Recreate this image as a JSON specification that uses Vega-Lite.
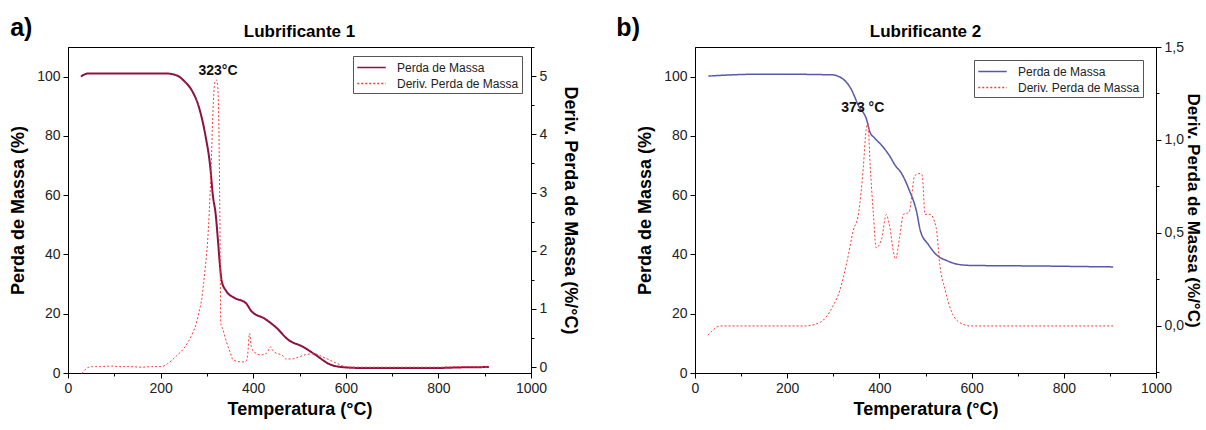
{
  "$schema": "https://vega.github.io/schema/vega-lite/v6.json",
  "background": "white",
  "padding": {"left": 9, "top": 15, "right": 3, "bottom": 2},
  "spacing": 35,
  "config": {
    "font": "Liberation Sans",
    "view": {"stroke": "#000", "strokeWidth": 1},
    "axis": {
      "grid": false, "domainColor": "#000", "tickColor": "#000", "labelColor": "#222", "labelFlush": false,
      "labelFont": "Liberation Sans", "labelFontSize": 14, "titleFont": "Liberation Sans",
      "titleFontSize": 18, "titleFontWeight": "bold", "titleColor": "#000", "labelPadding": 3
    },
    "title": {"font": "Liberation Sans", "fontSize": 17, "fontWeight": "bold", "color": "#000", "offset": -25},
    "legend": {
      "orient": "top-right", "strokeColor": "#555", "padding": 3, "fillColor": "white",
      "labelFont": "Liberation Sans", "labelFontSize": 12, "labelColor": "#222",
      "symbolType": "M-1.9,0H1.9", "symbolSize": 225, "symbolOffset": 7, "labelOffset": 17,
      "symbolStrokeWidth": 1.5, "rowPadding": 1, "title": null
    }
  },
  "datasets": {
    "tga1": [
      {"T": 28, "m": 100.0}, {"T": 35, "m": 100.7}, {"T": 45, "m": 101.1}, {"T": 100, "m": 101.1}, {"T": 150, "m": 101.1},
      {"T": 210, "m": 101.1}, {"T": 235, "m": 100.4}, {"T": 251, "m": 98.5}, {"T": 268, "m": 95.2}, {"T": 282, "m": 90.1},
      {"T": 297, "m": 80.0}, {"T": 307, "m": 69.9}, {"T": 313, "m": 59.8}, {"T": 319, "m": 53.5}, {"T": 324, "m": 44.5},
      {"T": 328, "m": 36.6}, {"T": 332, "m": 31.0}, {"T": 342, "m": 27.6}, {"T": 359, "m": 25.4}, {"T": 384, "m": 23.6},
      {"T": 396, "m": 20.9}, {"T": 425, "m": 18.3}, {"T": 450, "m": 15.3}, {"T": 475, "m": 11.3}, {"T": 508, "m": 8.8},
      {"T": 533, "m": 6.3}, {"T": 566, "m": 2.9}, {"T": 591, "m": 2.0}, {"T": 632, "m": 1.7}, {"T": 700, "m": 1.7},
      {"T": 797, "m": 1.7}, {"T": 850, "m": 1.9}, {"T": 909, "m": 2.0}
    ],
    "dtg1": [
      {"T": 30, "d": -0.11}, {"T": 35, "d": -0.06}, {"T": 40, "d": -0.02}, {"T": 45, "d": 0.0}, {"T": 53, "d": 0.01},
      {"T": 70, "d": 0.01}, {"T": 94, "d": 0.02}, {"T": 110, "d": 0.01}, {"T": 130, "d": 0.01}, {"T": 160, "d": 0.0},
      {"T": 180, "d": 0.01}, {"T": 202, "d": 0.01}, {"T": 215, "d": 0.06}, {"T": 235, "d": 0.2}, {"T": 250, "d": 0.32},
      {"T": 260, "d": 0.44}, {"T": 270, "d": 0.6}, {"T": 276, "d": 0.72}, {"T": 283, "d": 0.95}, {"T": 289, "d": 1.18},
      {"T": 293, "d": 1.45}, {"T": 297, "d": 1.75}, {"T": 301, "d": 2.1}, {"T": 305, "d": 2.66}, {"T": 309, "d": 3.4},
      {"T": 313, "d": 4.37}, {"T": 317, "d": 4.89}, {"T": 320, "d": 4.93}, {"T": 322, "d": 4.92}, {"T": 325, "d": 4.5},
      {"T": 327, "d": 3.4}, {"T": 328, "d": 2.6}, {"T": 329, "d": 1.5}, {"T": 330, "d": 0.75}, {"T": 334, "d": 0.66},
      {"T": 342, "d": 0.44}, {"T": 351, "d": 0.24}, {"T": 357, "d": 0.12}, {"T": 376, "d": 0.09}, {"T": 384, "d": 0.1},
      {"T": 388, "d": 0.21}, {"T": 392, "d": 0.58}, {"T": 396, "d": 0.35}, {"T": 402, "d": 0.26}, {"T": 417, "d": 0.21},
      {"T": 429, "d": 0.24}, {"T": 438, "d": 0.35}, {"T": 442, "d": 0.29}, {"T": 450, "d": 0.24}, {"T": 462, "d": 0.21},
      {"T": 471, "d": 0.14}, {"T": 483, "d": 0.14}, {"T": 500, "d": 0.18}, {"T": 516, "d": 0.22}, {"T": 533, "d": 0.23},
      {"T": 549, "d": 0.18}, {"T": 566, "d": 0.12}, {"T": 582, "d": 0.06}, {"T": 599, "d": 0.01}, {"T": 620, "d": 0.0},
      {"T": 650, "d": 0.0}, {"T": 700, "d": 0.0}, {"T": 750, "d": 0.0}, {"T": 800, "d": 0.0}, {"T": 850, "d": 0.01},
      {"T": 909, "d": 0.0}
    ],
    "tga2": [
      {"T": 29, "m": 100.2}, {"T": 80, "m": 100.6}, {"T": 130, "m": 100.8}, {"T": 200, "m": 100.8}, {"T": 297, "m": 100.6},
      {"T": 322, "m": 99.1}, {"T": 339, "m": 95.7}, {"T": 355, "m": 90.1}, {"T": 372, "m": 85.6}, {"T": 380, "m": 81.1},
      {"T": 389, "m": 79.4}, {"T": 406, "m": 76.6}, {"T": 422, "m": 73.3}, {"T": 435, "m": 69.9}, {"T": 447, "m": 67.6},
      {"T": 464, "m": 62.0}, {"T": 481, "m": 54.2}, {"T": 489, "m": 47.9}, {"T": 506, "m": 43.4}, {"T": 523, "m": 40.0},
      {"T": 548, "m": 37.8}, {"T": 573, "m": 36.6}, {"T": 598, "m": 36.3}, {"T": 656, "m": 36.2}, {"T": 750, "m": 36.1},
      {"T": 850, "m": 35.9}, {"T": 907, "m": 35.8}
    ],
    "dtg2": [
      {"T": 28, "d": -0.05}, {"T": 40, "d": -0.02}, {"T": 54, "d": 0.0}, {"T": 100, "d": 0.0}, {"T": 150, "d": 0.0},
      {"T": 200, "d": 0.0}, {"T": 238, "d": 0.0}, {"T": 272, "d": 0.02}, {"T": 288, "d": 0.06}, {"T": 300, "d": 0.11},
      {"T": 314, "d": 0.19}, {"T": 330, "d": 0.35}, {"T": 343, "d": 0.51}, {"T": 355, "d": 0.61}, {"T": 365, "d": 0.85},
      {"T": 371, "d": 1.05}, {"T": 375, "d": 1.09}, {"T": 380, "d": 0.86}, {"T": 387, "d": 0.6}, {"T": 393, "d": 0.42},
      {"T": 405, "d": 0.47}, {"T": 415, "d": 0.6}, {"T": 421, "d": 0.55}, {"T": 435, "d": 0.36}, {"T": 444, "d": 0.48},
      {"T": 452, "d": 0.6}, {"T": 464, "d": 0.61}, {"T": 477, "d": 0.81}, {"T": 489, "d": 0.82}, {"T": 493, "d": 0.81},
      {"T": 499, "d": 0.6}, {"T": 510, "d": 0.6}, {"T": 523, "d": 0.53}, {"T": 531, "d": 0.33}, {"T": 543, "d": 0.19},
      {"T": 556, "d": 0.08}, {"T": 573, "d": 0.02}, {"T": 598, "d": 0.0}, {"T": 700, "d": 0.0}, {"T": 800, "d": 0.0},
      {"T": 911, "d": 0.0}
    ],
    "lab1": [{"label": "323°C", "T": 324, "m": 102}],
    "lab2": [{"label": "373 °C", "T": 364, "m": 89.5}],
    "let1": [{"label": "a)", "T": -101, "m": 116.5}],
    "let2": [{"label": "b)", "T": -145, "m": 116.5}]
  },
  "resolve": {
    "scale": {"color": "independent", "strokeDash": "independent", "x": "independent", "y": "independent"},
    "legend": {"color": "independent", "strokeDash": "independent"}
  },
  "hconcat": [
    {
      "width": 463, "height": 326,
      "title": {"text": "Lubrificante 1"},
      "layer": [
        {
          "layer": [
            {
              "data": {"name": "tga1"},
              "mark": {"type": "line", "strokeWidth": 2, "interpolate": "monotone"},
              "encoding": {
                "x": {"field": "T", "type": "quantitative", "scale": {"domain": [0, 1000], "nice": false},
                  "axis": {"title": "Temperatura (°C)", "values": [0, 100, 200, 300, 400, 500, 600, 700, 800, 900, 1000],
                    "labelExpr": "datum.value % 200 === 0 ? format(datum.value, 'd') : ''",
                    "tickSize": {"condition": {"test": "datum.value % 200 === 0", "value": 5}, "value": 3},
                    "titlePadding": 5}},
                "y": {"field": "m", "type": "quantitative", "scale": {"domain": [0, 110], "nice": false},
                  "axis": {"title": "Perda de Massa (%)", "values": [0, 10, 20, 30, 40, 50, 60, 70, 80, 90, 100],
                    "labelExpr": "datum.value % 20 === 0 ? format(datum.value, 'd') : ''",
                    "tickSize": {"condition": {"test": "datum.value % 20 === 0", "value": 5}, "value": 3},
                    "titlePadding": 9}},
                "color": {"datum": "Perda de Massa", "type": "nominal",
                  "scale": {"domain": ["Perda de Massa", "Deriv. Perda de Massa"], "range": ["#8c1240", "#ff3a3a"]},
                  "legend": {"offset": 9}},
                "strokeDash": {"datum": "Perda de Massa", "type": "nominal",
                  "scale": {"domain": ["Perda de Massa", "Deriv. Perda de Massa"], "range": [[1, 0], [2, 2]]},
                  "legend": {"offset": 9}}
              }
            },
            {
              "data": {"name": "lab1"},
              "mark": {"type": "text", "fontSize": 14, "fontWeight": "bold", "color": "#111", "font": "Liberation Sans"},
              "encoding": {
                "x": {"field": "T", "type": "quantitative"},
                "y": {"field": "m", "type": "quantitative"},
                "text": {"field": "label"}
              }
            },
            {
              "data": {"name": "let1"},
              "mark": {"type": "text", "fontSize": 25, "fontWeight": "bold", "color": "#000", "font": "Liberation Sans"},
              "encoding": {
                "x": {"field": "T", "type": "quantitative"},
                "y": {"field": "m", "type": "quantitative"},
                "text": {"field": "label"}
              }
            }
          ]
        },
        {
          "data": {"name": "dtg1"},
          "mark": {"type": "line", "strokeWidth": 1, "interpolate": "monotone"},
          "encoding": {
            "x": {"field": "T", "type": "quantitative"},
            "y": {"field": "d", "type": "quantitative", "scale": {"domain": [-0.1, 5.5], "nice": false, "zero": false},
              "axis": {"orient": "right", "title": "Deriv. Perda de Massa (%/°C)",
                "values": [0, 0.5, 1, 1.5, 2, 2.5, 3, 3.5, 4, 4.5, 5, 5.5],
                "labelExpr": "datum.value % 1 === 0 ? format(datum.value, 'd') : ''",
                "tickSize": {"condition": {"test": "datum.value % 1 === 0", "value": 5}, "value": 3},
                "titlePadding": 14}},
            "color": {"datum": "Deriv. Perda de Massa", "type": "nominal"},
            "strokeDash": {"datum": "Deriv. Perda de Massa", "type": "nominal"}
          }
        }
      ],
      "resolve": {"scale": {"y": "independent"}}
    },
    {
      "width": 461, "height": 326,
      "title": {"text": "Lubrificante 2"},
      "layer": [
        {
          "layer": [
            {
              "data": {"name": "tga2"},
              "mark": {"type": "line", "strokeWidth": 1.5, "interpolate": "monotone"},
              "encoding": {
                "x": {"field": "T", "type": "quantitative", "scale": {"domain": [0, 1000], "nice": false},
                  "axis": {"title": "Temperatura (°C)", "values": [0, 100, 200, 300, 400, 500, 600, 700, 800, 900, 1000],
                    "labelExpr": "datum.value % 200 === 0 ? format(datum.value, 'd') : ''",
                    "tickSize": {"condition": {"test": "datum.value % 200 === 0", "value": 5}, "value": 3},
                    "titlePadding": 5}},
                "y": {"field": "m", "type": "quantitative", "scale": {"domain": [0, 110], "nice": false},
                  "axis": {"title": "Perda de Massa (%)", "values": [0, 10, 20, 30, 40, 50, 60, 70, 80, 90, 100],
                    "labelExpr": "datum.value % 20 === 0 ? format(datum.value, 'd') : ''",
                    "tickSize": {"condition": {"test": "datum.value % 20 === 0", "value": 5}, "value": 3},
                    "titlePadding": 9}},
                "color": {"datum": "Perda de Massa", "type": "nominal",
                  "scale": {"domain": ["Perda de Massa", "Deriv. Perda de Massa"], "range": ["#5858a8", "#ff3a3a"]},
                  "legend": {"offset": 13}},
                "strokeDash": {"datum": "Perda de Massa", "type": "nominal",
                  "scale": {"domain": ["Perda de Massa", "Deriv. Perda de Massa"], "range": [[1, 0], [2, 2]]},
                  "legend": {"offset": 13}}
              }
            },
            {
              "data": {"name": "lab2"},
              "mark": {"type": "text", "fontSize": 14, "fontWeight": "bold", "color": "#111", "font": "Liberation Sans"},
              "encoding": {
                "x": {"field": "T", "type": "quantitative"},
                "y": {"field": "m", "type": "quantitative"},
                "text": {"field": "label"}
              }
            },
            {
              "data": {"name": "let2"},
              "mark": {"type": "text", "fontSize": 25, "fontWeight": "bold", "color": "#000", "font": "Liberation Sans"},
              "encoding": {
                "x": {"field": "T", "type": "quantitative"},
                "y": {"field": "m", "type": "quantitative"},
                "text": {"field": "label"}
              }
            }
          ]
        },
        {
          "data": {"name": "dtg2"},
          "mark": {"type": "line", "strokeWidth": 1, "interpolate": "monotone"},
          "encoding": {
            "x": {"field": "T", "type": "quantitative"},
            "y": {"field": "d", "type": "quantitative", "scale": {"domain": [-0.253, 1.5], "nice": false, "zero": false},
              "axis": {"orient": "right", "title": "Deriv. Perda de Massa (%/°C)", "titleFontSize": 17,
                "values": [-0.25, 0, 0.25, 0.5, 0.75, 1, 1.25, 1.5],
                "labelExpr": "(datum.value * 2) % 1 === 0 ? replace(format(datum.value, '.1f'), '.', ',') : ''",
                "tickSize": {"condition": {"test": "(datum.value * 2) % 1 === 0", "value": 5}, "value": 3},
                "titlePadding": 0}},
            "color": {"datum": "Deriv. Perda de Massa", "type": "nominal"},
            "strokeDash": {"datum": "Deriv. Perda de Massa", "type": "nominal"}
          }
        }
      ],
      "resolve": {"scale": {"y": "independent"}}
    }
  ]
}
